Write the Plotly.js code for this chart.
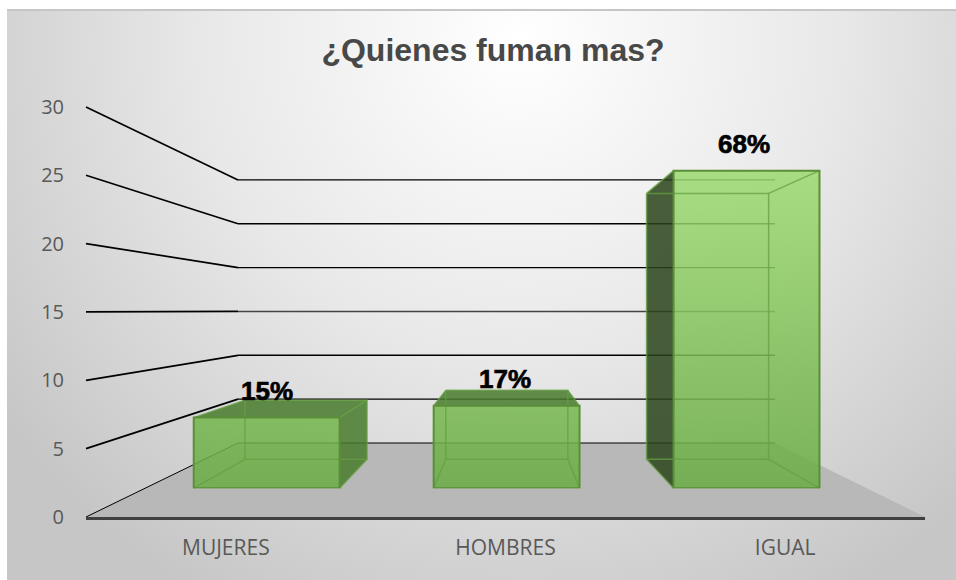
<!DOCTYPE html>
<html>
<head>
<meta charset="utf-8">
<script src="https://cdn.plot.ly/plotly-3.0.1.min.js"></script>
<style>
html,body{margin:0;padding:0;background:#fff;}
#bg{position:absolute;left:7px;top:9px;width:949px;height:571px;box-sizing:border-box;border-top:2px solid #c6c6c6;
background:radial-gradient(ellipse 640px 640px at 513px 30px,#ffffff 0%,#e8e8e8 50%,#c6c6c6 100%);}
#chart{position:absolute;left:0;top:0;width:956px;height:580px;}
.annotation-text{stroke:#000;stroke-width:0.7px;}
</style>
</head>
<body>
<div id="bg"></div>
<div id="chart"></div>
<script>
// Data
var categories = ['MUJERES', 'HOMBRES', 'IGUAL'];
var values = [6, 7, 27];
var percentLabels = ['15%', '17%', '68%'];
var yTicks = [0, 5, 10, 15, 20, 25, 30];
var chartTitle = '¿Quienes fuman mas?';

// Oblique projection of the 3-D box: wall and floor geometry in page pixels
var W = 956, H = 580;
function leftAt(d) { return 86 + 152 * d + 6 * d * (1 - d); }
function rightAt(d) { return 925 - 150 * d; }
function baseAt(d) { return 517 - 74 * d; }
function unitAt(d) { return 13.67 - 4.9 * d; }
var dFront = 0.39, dBack = 0.78, halfBar = 0.304;
function P(u, d, v) {
  return [leftAt(d) + u * (rightAt(d) - leftAt(d)) / categories.length, baseAt(d) - v * unitAt(d)];
}
function poly(points, extra) {
  var t = {
    type: 'scatter', mode: 'lines', xaxis: 'x', yaxis: 'y', hoverinfo: 'skip', showlegend: false,
    x: points.map(function (p) { return p ? p[0] : null; }),
    y: points.map(function (p) { return p ? p[1] : null; }),
    line: { width: 0, color: 'rgba(0,0,0,0)' }
  };
  for (var k in extra) t[k] = extra[k];
  return t;
}
var traces = [];

// Floor
traces.push(poly([P(0, 0, 0), P(3, 0, 0), P(3, 1, 0), P(0, 1, 0), P(0, 0, 0)], { fill: 'toself', fillcolor: '#b8b8b8' }));

// Walls: side line + back line for every tick
yTicks.forEach(function (v) {
  traces.push(poly([P(0, 0, v), P(0, 1, v)], {
    line: { color: '#000', width: v === 0 ? 1 : 1.7 }
  }));
  traces.push(poly([P(0, 1, v), P(3, 1, v)], {
    line: { color: v === 15 ? '#444444' : '#000', width: v === 0 ? 1 : 1.4 }
  }));
});

var topStop = P(0, dFront, Math.max.apply(null, values))[1];
var botStop = P(0, dFront, 0)[1];

values.forEach(function (v, i) {
  var a = i + 0.5 - halfBar, b = i + 0.5 + halfBar;
  var fTL = P(a, dFront, v), fTR = P(b, dFront, v), fBL = P(a, dFront, 0), fBR = P(b, dFront, 0);
  var bTL = P(a, dBack, v), bTR = P(b, dBack, v), bBL = P(a, dBack, 0), bBR = P(b, dBack, 0);
  // outer side faces (only the ones sticking out of the front face)
  if (bTL[0] < fTL[0]) traces.push(poly([fTL, bTL, bBL, fBL, fTL], { fill: 'toself', fillcolor: 'rgba(42,68,26,0.85)' }));
  if (bTR[0] > fTR[0]) traces.push(poly([fTR, bTR, bBR, fBR, fTR], { fill: 'toself', fillcolor: 'rgba(72,122,44,0.85)' }));
  if (bTL[1] < fTL[1]) traces.push(poly([fTL, bTL, bTR, fTR, fTL], { fill: 'toself', fillcolor: 'rgba(72,122,44,0.85)' }));
  // translucent front face with vertical gradient
  traces.push(poly([fTL, fTR, fBR, fBL, fTL], {
    fill: 'toself',
    fillgradient: {
      type: 'vertical', start: topStop, stop: botStop,
      colorscale: [[0, 'rgba(157,218,112,0.85)'], [1, 'rgba(105,172,68,0.85)']]
    }
  }));
  // box edges
  traces.push(poly([bTL, bTR, bBR, bBL, bTL, null, fTL, bTL, null, fTR, bTR, null, fBL, bBL, null, fBR, bBR], {
    line: { color: 'rgba(100,160,66,0.75)', width: 1.5 }
  }));
});

// Front axis: carries the tick labels and the thick floor edge
traces.push({
  type: 'scatter', mode: 'lines', x: categories, y: values.map(function () { return 0; }),
  xaxis: 'x2', yaxis: 'y2', hoverinfo: 'skip', showlegend: false, line: { width: 0, color: 'rgba(0,0,0,0)' }
});
// Bars on their own plane, scaled with the value
traces.push({
  type: 'bar', x: categories, y: values, xaxis: 'x3', yaxis: 'y3', showlegend: false,
  marker: { color: 'rgba(0,0,0,0)', line: { color: '#5a8f38', width: 2 } }
});

function dom(px0, px1) { return [px0 / W, px1 / W]; }
function vdom(pxBottom, pxTop) { return [1 - pxBottom / H, 1 - pxTop / H]; }
var hidden = { visible: false, fixedrange: true };

var layout = {
  width: W, height: H,
  margin: { l: 0, r: 0, t: 0, b: 0, pad: 0 },
  paper_bgcolor: 'rgba(0,0,0,0)', plot_bgcolor: 'rgba(0,0,0,0)',
  showlegend: false,
  bargap: 1 - 2 * halfBar,
  font: { family: 'Open Sans, sans-serif', color: '#595959', size: 19 },
  title: {
    text: chartTitle, x: 493 / W, xref: 'paper', xanchor: 'center', y: 1 - 50 / H, yref: 'paper', yanchor: 'middle',
    font: { family: 'Liberation Sans, Arial, sans-serif', size: 32, weight: 'bold', color: '#484848' }
  },
  xaxis: Object.assign({ range: [0, W], domain: [0, 1], anchor: 'y' }, hidden),
  yaxis: Object.assign({ range: [H, 0], domain: [0, 1], anchor: 'x' }, hidden),
  xaxis2: {
    type: 'category', categoryorder: 'array', categoryarray: categories, range: [-0.5, categories.length - 0.5],
    domain: dom(leftAt(0), rightAt(0)), anchor: 'y2', showgrid: false, zeroline: false,
    showline: true, linecolor: '#404040', linewidth: 3, ticks: '', ticklabelstandoff: 10,
    tickfont: { family: 'Open Sans, sans-serif', size: 21, color: '#595959' }, fixedrange: true
  },
  yaxis2: {
    range: [0, 30], domain: vdom(baseAt(0), baseAt(0) - 30 * unitAt(0)), anchor: 'x2',
    tickmode: 'array', tickvals: yTicks, ticktext: yTicks.map(String), showgrid: false, zeroline: false, showline: false,
    ticks: '', ticklabelstandoff: 21,
    tickfont: { family: 'Open Sans, sans-serif', size: 20, color: '#595959' }, fixedrange: true
  },
  xaxis3: Object.assign({
    type: 'category', categoryorder: 'array', categoryarray: categories, range: [-0.5, categories.length - 0.5],
    domain: dom(leftAt(dFront), rightAt(dFront)), anchor: 'y3'
  }, hidden),
  yaxis3: Object.assign({
    range: [0, 30], domain: vdom(baseAt(dFront), baseAt(dFront) - 30 * unitAt(dFront)), anchor: 'x3'
  }, hidden),
  annotations: values.map(function (v, i) {
    return {
      text: percentLabels[i], x: categories[i], y: v, xref: 'x3', yref: 'y3', yshift: 27, xshift: -1.5 * i,
      xanchor: 'center', yanchor: 'middle', showarrow: false,
      font: { family: 'Liberation Sans, Arial, sans-serif', size: 26, weight: 'bold', color: '#000' }
    };
  })
};
Plotly.newPlot('chart', traces, layout, { displayModeBar: false, staticPlot: true });
</script>
</body>
</html>
